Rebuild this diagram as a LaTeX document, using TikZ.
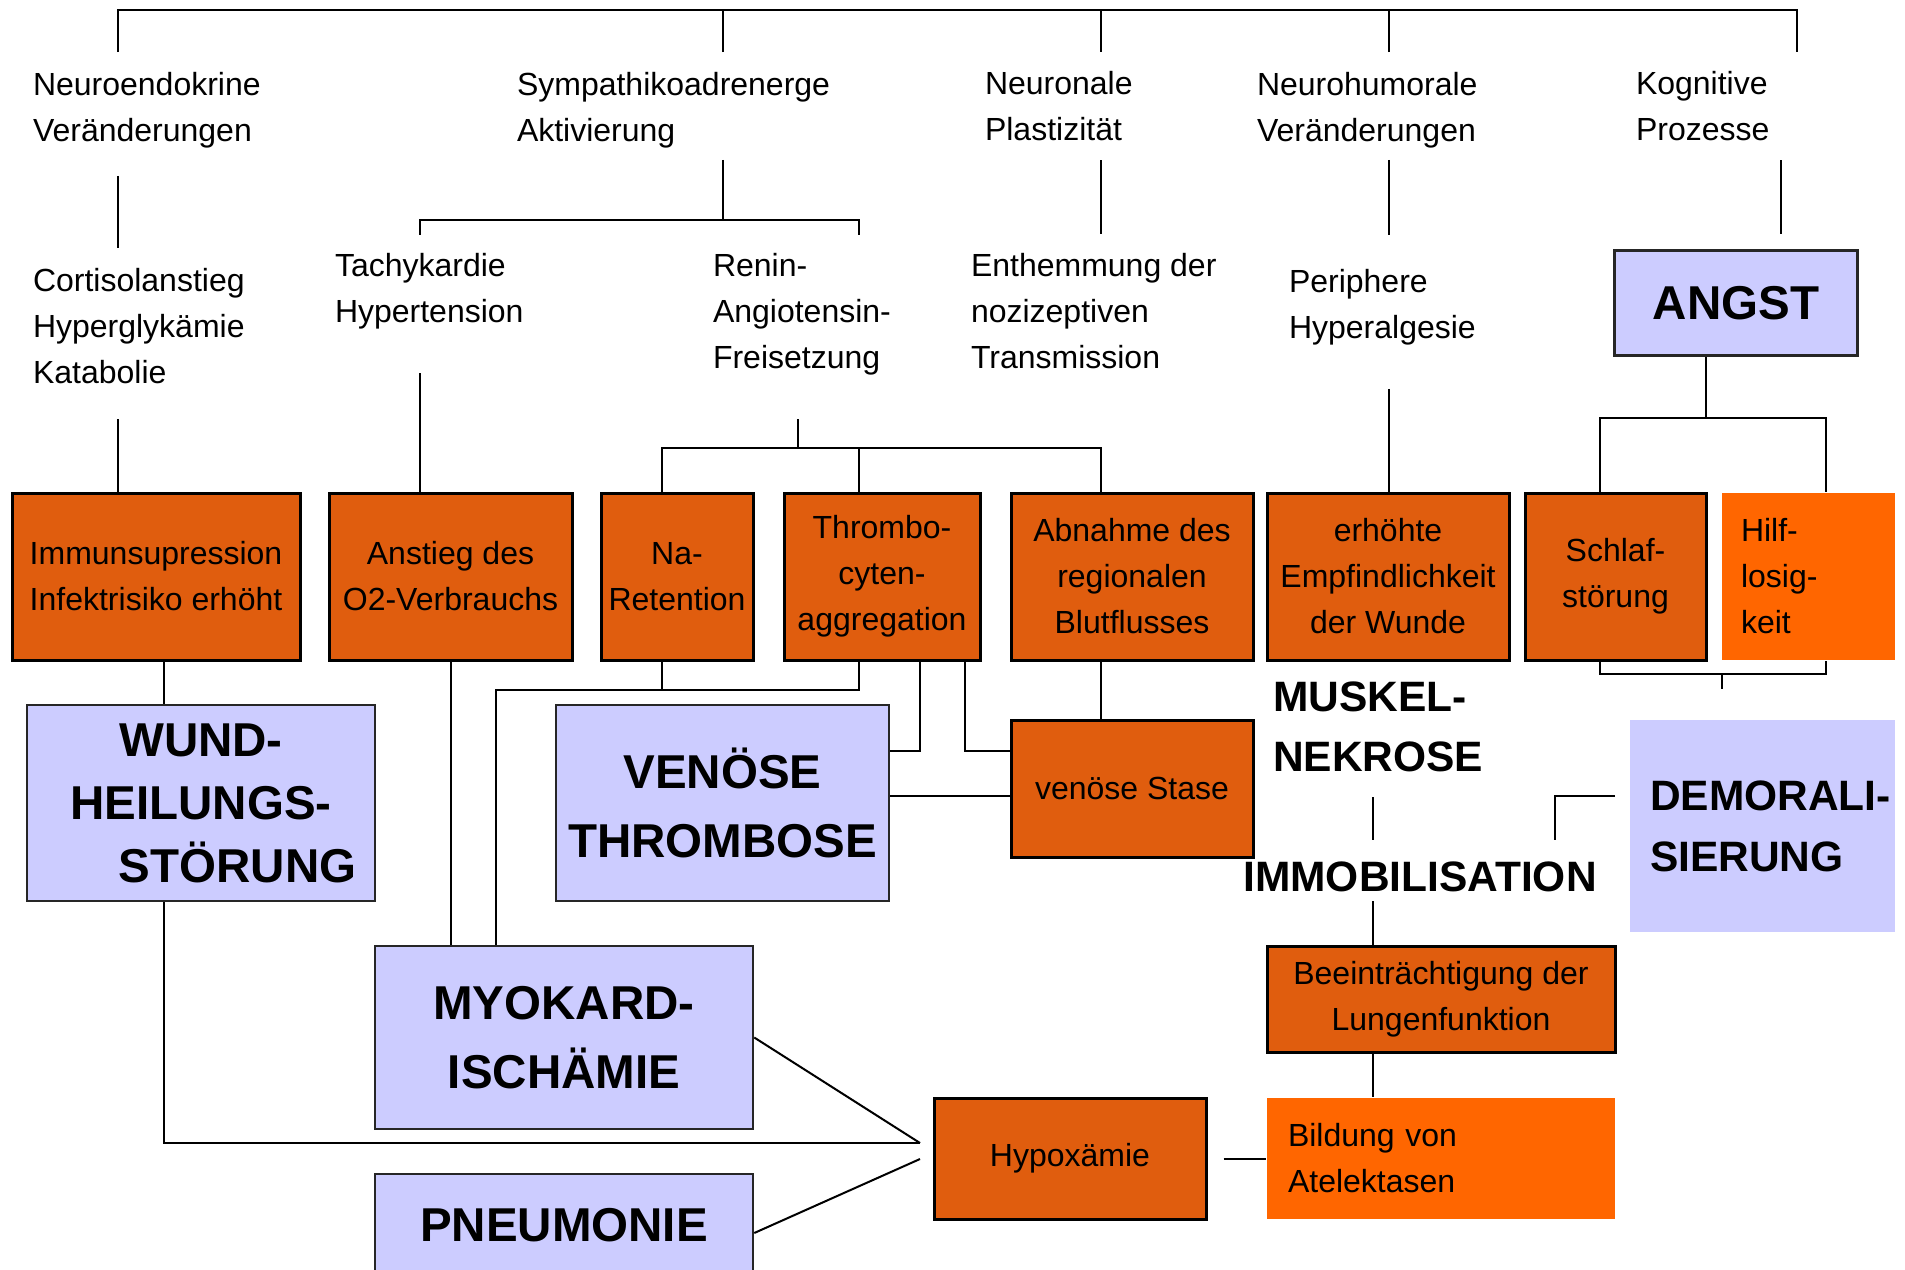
\documentclass[tikz,border=0pt]{standalone}
\usepackage{fontspec}
\setmainfont{Liberation Sans}
\definecolor{dorange}{RGB}{224,93,14}
\definecolor{lorange}{RGB}{255,102,0}
\definecolor{lav}{RGB}{204,204,255}
\tikzset{
  normal/.style={font=\fontsize{32}{46}\selectfont},
  big/.style={font=\bfseries\fontsize{47.5}{69}\selectfont},
  mid/.style={font=\bfseries\fontsize{42.5}{60}\selectfont},
  txt/.style={normal, inner sep=0pt, anchor=west, align=left},
  boxsize/.style 2 args={minimum width=#1pt, minimum height=#2pt},
  obox/.style={normal, draw=black, line width=3pt, fill=dorange, inner sep=0pt, align=center},
  hbox/.style={normal, fill=lorange, inner sep=0pt},
  lbox/.style={big, draw=black!85, line width=2.5pt, fill=lav, inner sep=0pt, align=center}
}
\begin{document}
\begin{tikzpicture}[x=1pt, y=-1pt, line width=2pt]
  \useasboundingbox (0,0) rectangle (1905,1269);
  \clip (0,0) rectangle (1905,1269);
  % first row
  \node[txt] (NE) at (32,110) {Neuroendokrine\\Veränderungen};
  \node[txt] (SA) at (516,110) {Sympathikoadrenerge\\Aktivierung};
  \node[txt] (NP) at (984,106.5) {Neuronale\\Plastizität};
  \node[txt] (NH) at (1256,110) {Neurohumorale\\Veränderungen};
  \node[txt] (KP) at (1635,106.5) {Kognitive\\Prozesse};
  % second row
  \node[txt] (CO) at (32,326.5) {Cortisolanstieg\\Hyperglykämie\\Katabolie};
  \node[txt] (TH) at (334,291.5) {Tachykardie\\Hypertension};
  \node[txt] (RA) at (712,314.5) {Renin-\\Angiotensin-\\Freisetzung};
  \node[txt] (EN) at (970,311) {Enthemmung der\\nozizeptiven\\Transmission};
  \node[txt] (PH) at (1288,307) {Periphere\\Hyperalgesie};
  \node[lbox, boxsize={243}{105}] (AN) at (1736,303) {ANGST};
  % third row
  \node[obox, boxsize={288}{167}] (IM) at (156,576.5) {Immunsupression\\Infektrisiko erhöht};
  \node[obox, boxsize={243}{167}] (AO) at (450.5,576.5) {Anstieg des\\O2-Verbrauchs};
  \node[obox, boxsize={152}{167}] (NA) at (677,576.5) {Na-\\Retention};
  \node[obox, boxsize={196}{167}] (TA) at (882,576.5) {Thrombo-\\cyten-\\aggregation};
  \node[obox, boxsize={242}{167}] (AB) at (1132,576.5) {Abnahme des\\regionalen\\Blutflusses};
  \node[obox, boxsize={242}{167}] (EE) at (1388,576.5) {erhöhte\\Empfindlichkeit\\der Wunde};
  \node[obox, boxsize={181}{167}] (SS) at (1615.5,576.5) {Schlaf-\\störung};
  \node[hbox, boxsize={173}{167}, text width=135pt, inner xsep=19pt, align=left] (HL) at (1808.5,576.5) {Hilf-\\losig-\\keit};
  % lower part
  \node[lbox, boxsize={348}{196}, font=\bfseries\fontsize{47.5}{63}\selectfont] (WH) at (201,803) {WUND-\\HEILUNGS-\\\hspace*{73pt}STÖRUNG};
  \node[lbox, boxsize={333}{196}] (VT) at (722.5,803) {VENÖSE\\THROMBOSE};
  \node[obox, boxsize={242}{137}] (VS) at (1132,788.5) {venöse Stase};
  \node[txt, mid] (MN) at (1272,727) {MUSKEL-\\NEKROSE};
  \node[mid, inner sep=0pt] (IB) at (1420,877) {IMMOBILISATION};
  \node[fill=lav, boxsize={265}{212}, text width=225pt, inner xsep=20pt, align=left, font=\bfseries\fontsize{42.5}{61}\selectfont] (DE) at (1762.5,826) {\mbox{DEMORALI-}\\SIERUNG};
  \node[obox, boxsize={348}{106}] (BL) at (1441,999) {Beeinträchtigung der\\Lungenfunktion};
  \node[hbox, boxsize={348}{121}, text width=306pt, inner xsep=21pt, align=left] (BA) at (1441,1158.5) {Bildung von\\Atelektasen};
  \node[obox, boxsize={272}{121}] (HY) at (1070,1158.5) {Hypoxämie};
  \node[lbox, boxsize={378}{183}] (MI) at (564,1037.5) {MYOKARD-\\ISCHÄMIE};
  \node[lbox, boxsize={378}{102}] (PN) at (564,1225) {PNEUMONIE};
  % top bar
  \coordinate (TL) at (118,10);
  \coordinate (TR) at (1797,10);
  \draw[shorten <=19pt, shorten >=19pt] (NE.north -| TL) -- (TL) -- (TR) -- (KP.north -| TR);
  \draw[shorten <=19pt] (SA.north -| 723,0) -- (TL -| 723,0);
  \draw[shorten <=19pt] (NP.north -| 1101,0) -- (TL -| 1101,0);
  \draw[shorten <=19pt] (NH.north -| 1389,0) -- (TL -| 1389,0);
  % first to second row
  \draw[shorten <=27pt, shorten >=20pt] (NE.south -| 118,0) -- (CO.north -| 118,0);
  \coordinate (sa) at (723,220);
  \draw[shorten <=11pt] (SA.south -| sa) -- (sa);
  \draw[shorten <=18pt, shorten >=18pt] (TH.north -| 420,0) |- (sa) -| (RA.north -| 859,0);
  \draw[shorten <=18pt, shorten >=18pt] (NP.south -| 1101,0) -- (EN.north -| 1101,0);
  \draw[shorten <=11pt, shorten >=33pt] (NH.south -| 1389,0) -- (PH.north -| 1389,0);
  \draw[shorten <=18pt, shorten >=15pt] (KP.south -| 1781,0) -- (AN.north -| 1781,0);
  % second to third row
  \draw[shorten <=34pt] (CO.south -| 118,0) -- (IM.north -| 118,0);
  \draw[shorten <=43pt] (TH.south -| 420,0) -- (AO.north -| 420,0);
  \coordinate (ra) at (798,448);
  \draw[shorten <=43pt] (RA.south -| ra) -- (ra);
  \draw (NA.north -| 662,0) |- (ra) -| (AB.north -| 1101,0);
  \draw (TA.north -| 859,0) -- (ra -| 859,0);
  \draw[shorten <=43pt] (PH.south -| 1389,0) -- (EE.north -| 1389,0);
  \coordinate (an) at (1706,418);
  \draw (AN.south -| an) -- (an);
  \draw (SS.north -| 1600,0) |- (an) -| (HL.north -| 1826,0);
  % third row down
  \draw (IM.south -| 164,0) -- (WH.north -| 164,0);
  \draw (AO.south -| 451,0) -- (MI.north -| 451,0);
  \coordinate (na) at (496,690);
  \draw (TA.south -| 859,0) |- (na) -- (MI.north -| na);
  \draw (NA.south -| 662,0) -- (na -| 662,0);
  \draw (TA.south -| 920,0) |- (VT.east |- 0,751);
  \draw (TA.south -| 965,0) |- (VS.west |- 0,751);
  \draw (VT.east |- 0,796) -- (VS.west |- 0,796);
  \draw (AB.south -| 1101,0) -- (VS.north -| 1101,0);
  \coordinate (sh) at (1722,674);
  \draw (SS.south -| 1600,0) |- (sh) -| (HL.south -| 1826,0);
  \draw[shorten >=30pt] (sh) -- (sh |- DE.north);
  \draw[shorten <=24pt, shorten >=21pt] (MN.south -| 1373,0) -- (IB.north -| 1373,0);
  \draw[shorten <=14pt, shorten >=21pt] (DE.west |- 0,796) -| (IB.north -| 1555,0);
  \draw[shorten <=8pt] (IB.south -| 1373,0) -- (BL.north -| 1373,0);
  \draw (BL.south -| 1373,0) -- (BA.north -| 1373,0);
  \draw[shorten <=16pt] (HY.east) -- (BA.west);
  \coordinate (h1) at (920,1143);
  \coordinate (h2) at (920,1159);
  \draw (MI.east) -- (h1);
  \draw (WH.south -| 164,0) |- (h1);
  \draw (PN.east |- 0,1233) -- (h2);
\end{tikzpicture}
\end{document}
